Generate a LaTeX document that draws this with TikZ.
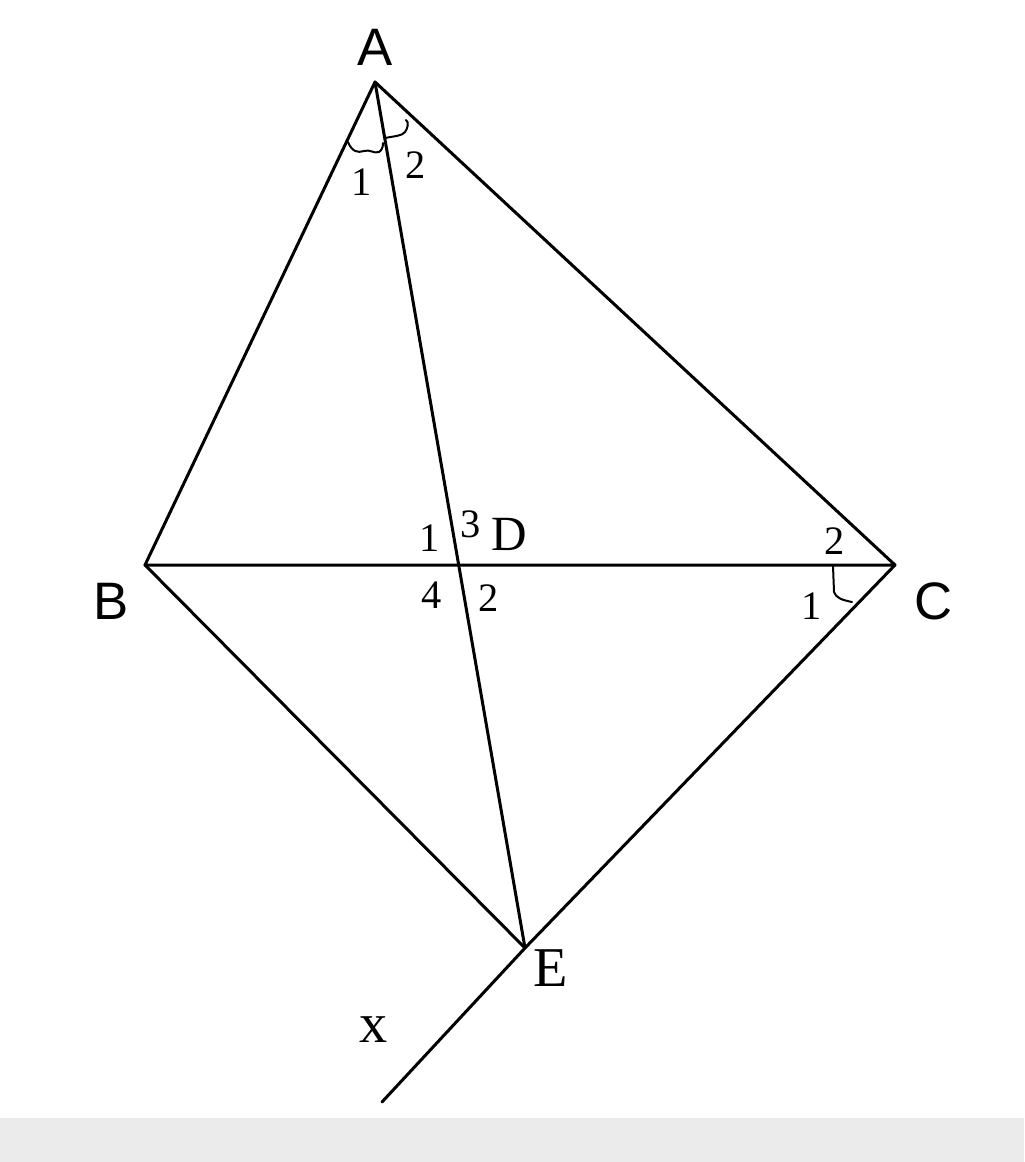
\documentclass[tikz,border=0pt]{standalone}
\usepackage{fontspec}
\setmainfont{Liberation Serif}
\newfontfamily\sfA{Liberation Sans}
\begin{document}
\begin{tikzpicture}[x=0.02cm,y=-0.02cm,
  seg/.style={line width=0.06cm, line cap=round, line join=round},
  anglemark/.style={line width=0.04cm, line cap=round},
  vlab/.style={font=\sfA\fontsize{30}{34}\selectfont, inner sep=0pt},
  nlab/.style={font=\fontsize{23}{27}\selectfont, inner sep=0pt},
  slab/.style={font=\fontsize{#1}{#1}\selectfont, inner sep=0pt}]
\useasboundingbox (0,0) rectangle (1024,1162);
\fill[color={rgb,255:red,235;green,235;blue,235}] (0,1118) rectangle (1024,1162);
% points
\coordinate (A) at (375,82);
\coordinate (B) at (145,565);
\coordinate (C) at (895,565);
\coordinate (E) at (525,948);
\coordinate (D) at (458.7,565);
\coordinate (X) at (382,1102);
% lines
\draw[seg] (A) -- (B) -- (C) -- cycle;
\draw[seg] (A) -- (D) -- (E);
\draw[seg] (B) -- (E);
\draw[seg] (C) -- (E) -- (X);
% angle marks
\draw[anglemark] (348,142) .. controls (352,152) and (358,153) .. (364,151)
   .. controls (370,149) and (374,154) .. (379,152)
   .. controls (382,150) and (383,147) .. (383,143);
\draw[anglemark] (385,138) .. controls (395,136) and (402,136) .. (405,132)
   .. controls (408,128) and (409,122) .. (406,120);
\draw[anglemark] (833,566) -- (834,592) .. controls (836,598) and (842,600) .. (852,602);
% vertex labels
\node[vlab] (lA) at (375,47) {A};
\node[vlab] (lB) at (111,601) {B};
\node[vlab] (lC) at (934,601) {C};
\node[slab=28] (lD) at (509,534) {D};
\node[slab=32] (lE) at (551,968) {E};
\node[slab=32] (lx) at (374,1030) {x};
% angle numbers
\node[nlab] (a1) at (362,182) {1};
\node[nlab] (a2) at (416,165) {2};
\node[nlab] (d1) at (430,538) {1};
\node[nlab] (d3) at (471,524) {3};
\node[nlab] (d4) at (432,595) {4};
\node[nlab] (d2) at (489,598) {2};
\node[nlab] (c2) at (835,541) {2};
\node[nlab] (c1) at (812,606) {1};
\end{tikzpicture}
\end{document}
